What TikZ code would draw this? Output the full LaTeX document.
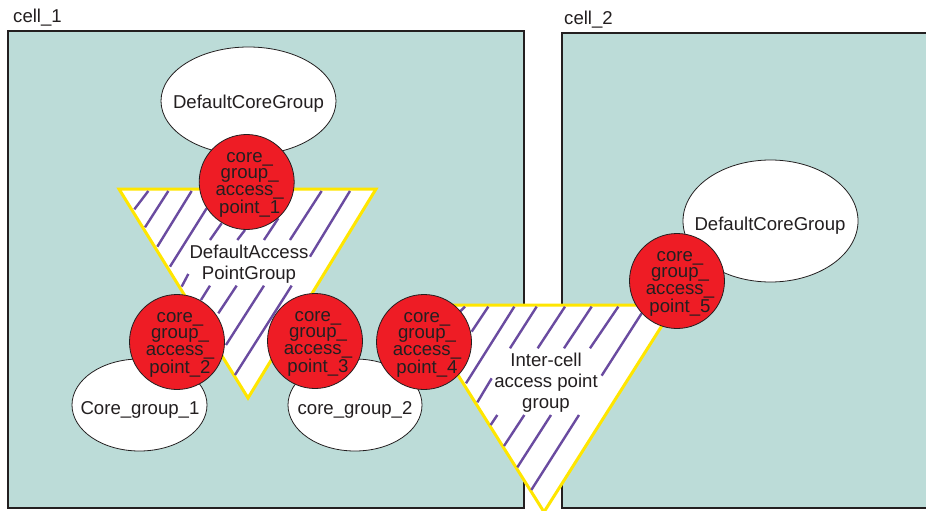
\documentclass[tikz,border=0pt]{standalone}
\usepackage{fontspec}
\setmainfont{Liberation Sans}
\definecolor{cellfill}{HTML}{BCDCD8}
\definecolor{cellline}{HTML}{231F20}
\definecolor{yel}{HTML}{FFE600}
\definecolor{hatchc}{HTML}{6A4BA0}
\definecolor{apred}{HTML}{EE1C25}
\newcommand{\aptext}[1]{core\_\\group\_\\access\_\\point\_#1}
\tikzset{
  cellbox/.style={draw=cellline,line width=2.6pt,fill=cellfill},
  txt/.style={font=\fontsize{18.6}{21}\selectfont,text=cellline,inner sep=0pt,align=center},
  aptxt/.style={font=\fontsize{18.6}{16.7}\selectfont,text=cellline,inner sep=0pt,align=center},
  groupell/.style={ellipse,draw=cellline,line width=0.8pt,fill=white,inner sep=0pt},
  apc/.style={circle,draw=cellline,line width=0.8pt,fill=apred,minimum size=95pt,inner sep=0pt},
  tri/.style={draw=yel,line width=3pt,fill=white,line join=miter},
  hatchl/.style={draw=hatchc,line width=2.4pt}
}
\usetikzlibrary{shapes.geometric}
\begin{document}
\begin{tikzpicture}[x=1pt,y=-1pt]
\useasboundingbox (0,0) rectangle (926,511);
\fill[white] (0,0) rectangle (926,511);
\draw[cellbox] (8,31) rectangle (524,508);
\draw[cellbox] (562,33) rectangle (935,508);
\node[txt,anchor=base west] (l1) at (13,23) {cell\_1};
\node[txt,anchor=base west] (l2) at (564,25) {cell\_2};
\node[groupell,minimum width=175pt,minimum height=108pt] (e1) at (248.5,101) {};
\node[groupell,minimum width=175pt,minimum height=122pt] (e2) at (770.5,221) {};
\node[groupell,minimum width=135pt,minimum height=92pt] (e3) at (139.5,405) {};
\node[groupell,minimum width=134pt,minimum height=92pt] (e4) at (355,405) {};
\node[txt] at (248.5,104) {DefaultCoreGroup};
\node[txt] at (770,226) {DefaultCoreGroup};
\node[txt] at (140,410) {Core\_group\_1};
\node[txt] at (355,410) {core\_group\_2};
\draw[tri] (119,189) -- (376,189) -- (248,398) -- cycle;
\draw[tri] (414,305) -- (675,305) -- (544,512) -- cycle;
\begin{scope}[xshift=100pt,yshift=-120pt,x=0.3333pt,y=-0.3333pt]
\foreach \a/\b/\c/\d in {145/213/103/268,205/213/135/322,275/213/172/380,320/265/210/440,365/310/330/360,435/330/412/360,535/295/492/360,665/213/570/360,750/213/630/410,265/462/245/500,330/497/303/540,410/497/355/580,492/497/378/675,575/497/405/765}
  \draw[hatchl] (\a,\b) -- (\c,\d);
\end{scope}
\begin{scope}[xshift=370pt,yshift=-230pt,x=0.3333pt,y=-0.3333pt]
\foreach \a/\b/\c/\d in {285/230/270/245,355/230/305/305,433/230/288/460,365/445/322/517,500/230/420/355,585/230/503/355,665/230/582/355,745/230/660/355,815/250/695/437,382/555/362/585,463/555/402/648,543/555/442/712,627/555/484/780}
  \draw[hatchl] (\a,\b) -- (\c,\d);
\end{scope}
\node[txt] at (249,264) {DefaultAccess\\PointGroup};
\node[txt] at (546,383) {Inter-cell\\access point\\group};
\node[apc] (c1) at (246.7,182) {};
\node[apc] (c2) at (177,342) {};
\node[apc] (c3) at (315,341) {};
\node[apc] (c4) at (424,342) {};
\node[apc] (c5) at (677,281) {};
\node[aptxt] at ([shift={(3,3)}]c1) {\aptext{1}};
\node[aptxt] at ([shift={(3,3)}]c2) {\aptext{2}};
\node[aptxt] at ([shift={(3,3)}]c3) {\aptext{3}};
\node[aptxt] at ([shift={(3,3)}]c4) {\aptext{4}};
\node[aptxt] at ([shift={(3,3)}]c5) {\aptext{5}};
\end{tikzpicture}
\end{document}
